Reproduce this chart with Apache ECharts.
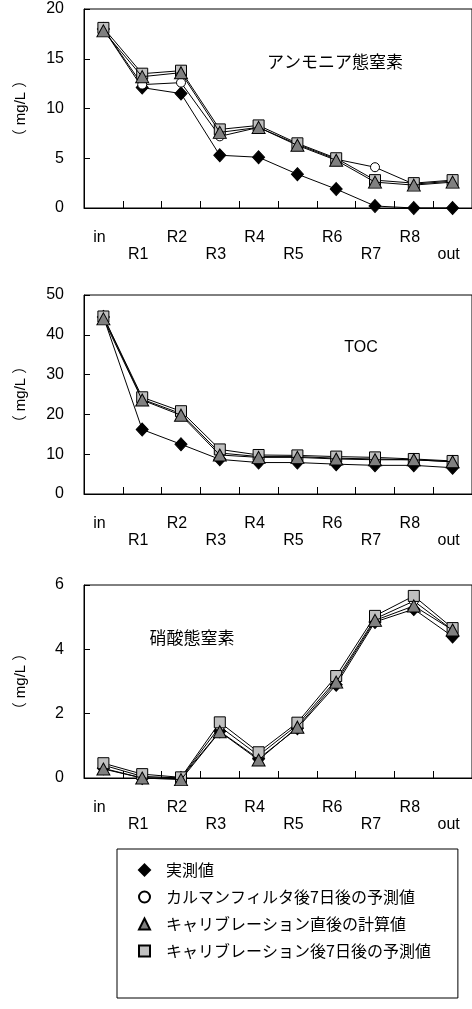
<!DOCTYPE html>
<html>
<head>
<meta charset="utf-8">
<script src="https://cdn.jsdelivr.net/npm/echarts@6/dist/echarts.min.js"></script>
<style>
html,body{margin:0;padding:0;background:#fff;}
#c{width:472px;height:1009px;}
</style>
</head>
<body>
<div id="c"></div>
<script>
const categories = ['in','R1','R2','R3','R4','R5','R6','R7','R8','out'];
const seriesNames = ['実測値','カルマンフィルタ後7日後の予測値','キャリブレーション直後の計算値','キャリブレーション後7日後の予測値'];
const panelTitles = ['アンモニア態窒素','TOC','硝酸態窒素'];
const yUnit = '（ mg/L ）';

// Panel 1: ammonium nitrogen
const nh4Measured = [18.0, 12.1, 11.5, 5.3, 5.1, 3.4, 1.9, 0.2, 0.0, 0.0];
const nh4Kalman   = [18.0, 12.4, 12.6, 7.2, 8.1, 6.4, 4.9, 4.1, 2.4, 2.7];
const nh4Calib    = [17.8, 13.2, 13.6, 7.6, 8.1, 6.3, 4.8, 2.6, 2.3, 2.6];
const nh4After7   = [18.1, 13.5, 13.8, 7.9, 8.3, 6.5, 5.0, 2.8, 2.5, 2.8];
// Panel 2: TOC
const tocMeasured = [44.5, 16.2, 12.5, 8.7, 7.9, 7.9, 7.5, 7.2, 7.2, 6.6];
const tocKalman   = [44.5, 23.8, 20.2, 10.3, 9.4, 9.4, 9.0, 8.8, 8.6, 8.1];
const tocCalib    = [44.0, 23.6, 19.8, 9.8, 9.2, 9.2, 8.8, 8.6, 8.6, 8.1];
const tocAfter7   = [44.6, 24.3, 20.8, 11.2, 9.8, 9.7, 9.4, 9.2, 8.8, 8.3];
// Panel 3: nitrate nitrogen
const no3Measured = [0.3, 0.0, 0.0, 1.45, 0.6, 1.55, 2.9, 4.85, 5.25, 4.4];
const no3Kalman   = [0.4, 0.05, 0.0, 1.6, 0.7, 1.65, 3.05, 4.95, 5.5, 4.6];
const no3Calib    = [0.28, 0.0, -0.05, 1.44, 0.56, 1.58, 2.98, 4.9, 5.35, 4.6];
const no3After7   = [0.46, 0.12, 0.02, 1.73, 0.8, 1.72, 3.17, 5.04, 5.66, 4.66];

const yMax = [20, 50, 6];
const yInterval = [5, 10, 2];

const panelData = [
  [nh4Measured, nh4Kalman, nh4Calib, nh4After7],
  [tocMeasured, tocKalman, tocCalib, tocAfter7],
  [no3Measured, no3Kalman, no3Calib, no3After7]
];

const latin = '"Liberation Sans", Arial, "Noto Sans CJK JP", sans-serif';
const cjk = '"Noto Sans CJK JP", "Liberation Sans", sans-serif';

const grids = [
  {left: 84, top: 9, width: 391, height: 199},
  {left: 84, top: 295, width: 391, height: 199},
  {left: 84, top: 585, width: 391, height: 193}
];

const styles = [
  {symbol: 'diamond', size: [12, 13], color: '#000000'},
  {symbol: 'circle', size: 9, color: '#ffffff'},
  {symbol: 'triangle', size: [13, 12], color: '#808080'},
  {symbol: 'rect', size: 11, color: '#c0c0c0'}
];
// draw order: measured, kalman, after7 (square), calib (triangle on top)
const drawOrder = [0, 1, 3, 2];

const xAxes = [], yAxes = [], series = [];
grids.forEach((g, p) => {
  g.show = true; g.borderColor = '#000'; g.borderWidth = 1; g.backgroundColor = '#fff';
  xAxes.push({
    type: 'category', gridIndex: p, data: categories, boundaryGap: true,
    axisLine: {show: true, lineStyle: {color: '#000', width: 1}},
    axisTick: {show: true, inside: true, length: 7, alignWithLabel: false, lineStyle: {color: '#000'}},
    axisLabel: {
      interval: 0, margin: 21, color: '#000', fontSize: 16, fontFamily: latin, lineHeight: 17,
      padding: [0, 8, 0, 0],
      formatter: (v, i) => (i % 2 === 0 ? v : '\n' + v)
    },
    splitLine: {show: false}
  });
  yAxes.push({
    type: 'value', gridIndex: p, min: 0, max: yMax[p], interval: yInterval[p],
    axisLine: {show: true, lineStyle: {color: '#000', width: 1}},
    axisTick: {show: true, inside: true, length: 6, lineStyle: {color: '#000'}},
    axisLabel: {color: '#000', fontSize: 16, fontFamily: latin, margin: 20},
    splitLine: {show: false},
    name: yUnit, nameLocation: 'middle', nameRotate: 90, nameGap: 56,
    nameTextStyle: {color: '#000', fontSize: 15, fontFamily: latin}
  });
  drawOrder.forEach((s, k) => {
    const st = styles[s];
    series.push({
      name: seriesNames[s], type: 'line', xAxisIndex: p, yAxisIndex: p,
      data: panelData[p][s], symbol: st.symbol, symbolSize: st.size,
      showAllSymbol: true, clip: false, z: 2 + k,
      lineStyle: {color: '#000', width: 1},
      itemStyle: {color: st.color, borderColor: '#000', borderWidth: 1},
      emphasis: {disabled: true}, animation: false
    });
  });
});

const option = {
  animation: false,
  grid: grids,
  xAxis: xAxes,
  yAxis: yAxes,
  series: series,
  legend: {
    orient: 'vertical', left: 117, top: 849,
    data: [
      {name: seriesNames[0], icon: 'diamond'},
      {name: seriesNames[1], icon: 'circle'},
      {name: seriesNames[2], icon: 'triangle'},
      {name: seriesNames[3], icon: 'rect'}
    ],
    itemWidth: 11, itemHeight: 11, itemGap: 11,
    padding: [13, 27, 39, 21],
    borderColor: '#000', borderWidth: 1, backgroundColor: '#fff',
    selectedMode: false,
    textStyle: {color: '#000', fontSize: 16, fontFamily: cjk, padding: [0, 0, 0, 11]}
  },
  graphic: [
    {type: 'text', x: 335, y: 62, style: {text: panelTitles[0], font: '17px ' + cjk, fill: '#000', textAlign: 'center', textVerticalAlign: 'middle'}},
    {type: 'text', x: 361, y: 348, style: {text: panelTitles[1], font: '16px ' + latin, fill: '#000', textAlign: 'center', textVerticalAlign: 'middle'}},
    {type: 'text', x: 192, y: 638, style: {text: panelTitles[2], font: '17px ' + cjk, fill: '#000', textAlign: 'center', textVerticalAlign: 'middle'}}
  ]
};

const chart = echarts.init(document.getElementById('c'), null, {renderer: 'canvas'});
chart.setOption(option);
</script>
</body>
</html>
